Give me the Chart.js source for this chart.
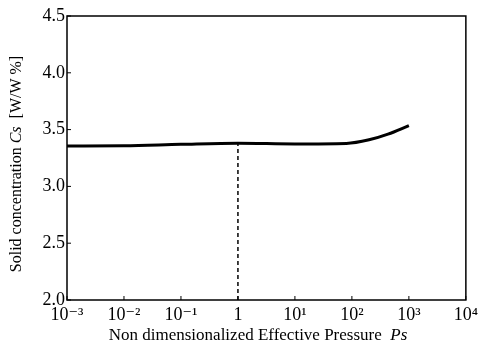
<!DOCTYPE html>
<html lang="en">
<head>
    <meta charset="utf-8">
    <title>Solid concentration vs Effective Pressure</title>
    <script src="https://cdn.jsdelivr.net/npm/chart.js"></script>
    <style>
        html, body { margin: 0; padding: 0; background: #fff; }
        #wrap { width: 482px; height: 349px; }
    </style>
</head>
<body>
    <div id="wrap"><canvas id="csChart"></canvas></div>
    <script>
        // curve
        const pressure = [1e-3, 1e-2, 1e-1, 1, 10, 80, 200, 430, 1000];
        const concentration = [3.355, 3.357, 3.37, 3.38, 3.374, 3.378, 3.41, 3.46, 3.535];
        // dashed marker at Ps = 1
        const markerX = [1, 1];
        const markerY = [2.0, 3.38];

        const xTickValues = [1e-3, 1e-2, 1e-1, 1, 1e1, 1e2, 1e3, 1e4];
        const xTickLabels = ['10⁻³', '10⁻²', '10⁻¹', '1', '10¹', '10²', '10³', '10⁴'];
        const yTickValues = [2.0, 2.5, 3.0, 3.5, 4.0, 4.5];

        const serif = '"Liberation Serif", "DejaVu Serif", serif';

        // frame, inward ticks and the axis titles with italic symbols
        const framePlugin = {
            id: 'frame',
            afterDraw(chart) {
                const { ctx, chartArea: a, scales } = chart;
                ctx.save();
                ctx.strokeStyle = '#000';
                ctx.lineWidth = 1.5;
                ctx.strokeRect(a.left, a.top, a.right - a.left, a.bottom - a.top);

                ctx.lineWidth = 1;
                ctx.beginPath();
                yTickValues.forEach(v => {
                    const y = scales.y.getPixelForValue(v);
                    ctx.moveTo(a.left, y); ctx.lineTo(a.left + 4, y);
                });
                xTickValues.forEach(v => {
                    const x = scales.x.getPixelForValue(v);
                    ctx.moveTo(x, a.bottom); ctx.lineTo(x, a.bottom - 4);
                });
                ctx.stroke();

                ctx.fillStyle = '#000';
                ctx.textBaseline = 'middle';

                // x title
                const xMain = 'Non dimensionalized Effective Pressure  ';
                const xIt = 'Ps';
                ctx.font = '17px ' + serif;
                const w1 = ctx.measureText(xMain).width;
                ctx.font = 'italic 17px ' + serif;
                const w2 = ctx.measureText(xIt).width;
                let sx = 258 - (w1 + w2) / 2;
                ctx.font = '17px ' + serif;
                ctx.textAlign = 'left';
                ctx.fillText(xMain, sx, 336);
                ctx.font = 'italic 17px ' + serif;
                ctx.fillText(xIt, sx + w1, 336);

                // y title, rotated
                const parts = [
                    ['Solid concentration ', '16px ' + serif],
                    ['Cs', 'italic 16px ' + serif],
                    ['  [W/W %]', '16px ' + serif]
                ];
                let total = 0;
                parts.forEach(p => { ctx.font = p[1]; total += ctx.measureText(p[0]).width; });
                ctx.translate(17, 164);
                ctx.rotate(-Math.PI / 2);
                let px = -total / 2;
                parts.forEach(p => {
                    ctx.font = p[1];
                    ctx.fillText(p[0], px, 0);
                    px += ctx.measureText(p[0]).width;
                });
                ctx.restore();
            }
        };

        const ctx = document.getElementById('csChart').getContext('2d');
        new Chart(ctx, {
            type: 'line',
            data: {
                datasets: [
                    {
                        label: 'Cs',
                        data: pressure.map((p, i) => ({ x: p, y: concentration[i] })),
                        borderColor: '#000',
                        borderWidth: 3,
                        pointRadius: 0,
                        cubicInterpolationMode: 'monotone',
                        fill: false
                    },
                    {
                        label: 'Ps = 1',
                        data: markerX.map((p, i) => ({ x: p, y: markerY[i] })),
                        borderColor: '#000',
                        borderWidth: 1.5,
                        borderDash: [4, 3],
                        pointRadius: 0,
                        fill: false
                    }
                ]
            },
            options: {
                responsive: true,
                maintainAspectRatio: false,
                animation: false,
                layout: { padding: { top: 16, right: 14, left: 0, bottom: 0 } },
                plugins: {
                    legend: { display: false },
                    tooltip: { enabled: false }
                },
                scales: {
                    x: {
                        type: 'logarithmic',
                        min: 1e-3,
                        max: 1e4,
                        grid: { display: false, drawTicks: false },
                        border: { display: false },
                        afterBuildTicks: (scale) => {
                            scale.ticks = xTickValues.map(v => ({ value: v }));
                        },
                        afterFit: (scale) => { scale.height = 49; },
                        ticks: {
                            color: '#000',
                            padding: 4,
                            maxRotation: 0,
                            autoSkip: false,
                            font: { family: serif, size: 18 },
                            callback: (value) => {
                                const i = xTickValues.findIndex(v => Math.abs(Math.log10(v) - Math.log10(value)) < 1e-6);
                                return i >= 0 ? xTickLabels[i] : '';
                            }
                        }
                    },
                    y: {
                        min: 2.0,
                        max: 4.5,
                        grid: { display: false, drawTicks: false },
                        border: { display: false },
                        afterBuildTicks: (scale) => {
                            scale.ticks = yTickValues.map(v => ({ value: v }));
                        },
                        afterFit: (scale) => { scale.width = 67; },
                        ticks: {
                            color: '#000',
                            padding: 2,
                            font: { family: serif, size: 18 },
                            callback: (value) => value.toFixed(1)
                        }
                    }
                }
            },
            plugins: [framePlugin]
        });
    </script>
</body>
</html>
